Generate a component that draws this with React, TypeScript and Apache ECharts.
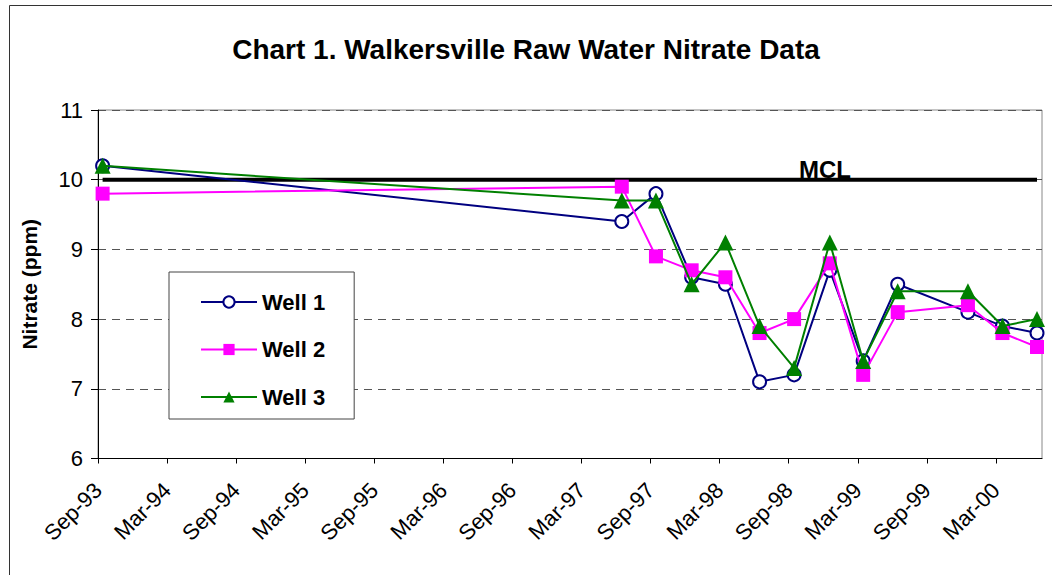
import React, { useEffect, useRef } from "react";
import * as echarts from "echarts";

const sampleDates = [
  "1993-09-13", "1997-06-16", "1997-09-15", "1997-12-18", "1998-03-16", "1998-06-15",
  "1998-09-15", "1998-12-18", "1999-03-15", "1999-06-15", "1999-12-18", "2000-03-18", "2000-06-18",
];
const well1 = [10.2, 9.4, 9.8, 8.6, 8.5, 7.1, 7.2, 8.7, 7.4, 8.5, 8.1, 7.9, 7.8];
const well2 = [9.8, 9.9, 8.9, 8.7, 8.6, 7.8, 8.0, 8.8, 7.2, 8.1, 8.2, 7.8, 7.6];
const well3 = [10.2, 9.7, 9.7, 8.5, 9.1, 7.9, 7.3, 9.1, 7.4, 8.4, 8.4, 7.9, 8.0];
const mclValue = 10;
const tickLabels = [
  "Sep-93", "Mar-94", "Sep-94", "Mar-95", "Sep-95", "Mar-96", "Sep-96",
  "Mar-97", "Sep-97", "Mar-98", "Sep-98", "Mar-99", "Sep-99", "Mar-00",
];

// months elapsed since 1 Sep 1993
const toMonths = (d: string) => {
  const [y, m, day] = d.split("-").map(Number);
  return (y - 1993) * 12 + (m - 9) + (day - 1) / 30;
};

export default function App() {
  const ref = useRef<HTMLDivElement>(null);
  useEffect(() => {
    if (!ref.current) return;
    const chart = echarts.init(ref.current, null, { renderer: "svg" });
    const xs = sampleDates.map(toMonths);
    const pts = (vals: number[]) => vals.map((v, i) => [xs[i], v]);
    const font = "Liberation Sans, Arial, sans-serif";
    chart.setOption({
      animation: false,
      backgroundColor: "#fff",
      textStyle: { fontFamily: font },
      title: {
        text: "Chart 1. Walkersville Raw Water Nitrate Data",
        left: "center",
        top: 30,
        textStyle: { fontSize: 28, fontWeight: "bold", color: "#000", fontFamily: font },
      },
      grid: {
        left: 98,
        right: 10,
        top: 110,
        bottom: 116.5,
        show: true,
        borderColor: "#888",
        borderWidth: 1,
        backgroundColor: "transparent",
      },
      legend: {
        orient: "vertical",
        left: 169,
        top: 272,
        padding: [18, 29, 10, 31],
        itemGap: 23.5,
        itemWidth: 56,
        itemHeight: 14,
        itemTextGap: 5,
        borderColor: "#444",
        borderWidth: 1,
        backgroundColor: "#fff",
        data: ["Well 1", "Well 2", "Well 3"],
        textStyle: { fontSize: 22, fontWeight: "bold", color: "#000", lineHeight: 24, fontFamily: font },
      },
      xAxis: {
        type: "value",
        min: 0,
        max: 82,
        interval: 6,
        axisLine: { lineStyle: { color: "#000", width: 1 } },
        axisTick: { show: true, length: 5, lineStyle: { color: "#000" } },
        splitLine: { show: false },
        axisLabel: {
          rotate: 45,
          fontSize: 22,
          color: "#000",
          margin: 28,
          showMaxLabel: false,
          formatter: (v: number) => (v % 6 === 0 ? tickLabels[v / 6] ?? "" : ""),
        },
      },
      yAxis: {
        type: "value",
        min: 6,
        max: 11,
        interval: 1,
        name: "Nitrate (ppm)",
        nameLocation: "middle",
        nameRotate: 90,
        nameGap: 58,
        nameTextStyle: { fontSize: 21, fontWeight: "bold", color: "#000", fontFamily: font },
        axisLine: { show: true, lineStyle: { color: "#000", width: 1 } },
        axisTick: { show: true, length: 7, lineStyle: { color: "#000" } },
        axisLabel: { fontSize: 22, color: "#000", margin: 15 },
        splitLine: { show: true, lineStyle: { color: "#555", type: [8, 6], width: 1 } },
      },
      series: [
        {
          name: "MCL",
          type: "line",
          data: [[xs[0], mclValue], [xs[xs.length - 1], mclValue]],
          symbol: "none",
          lineStyle: { color: "#000", width: 4 },
          z: 1,
        },
        {
          name: "Well 1",
          type: "line",
          data: pts(well1),
          symbol: "emptyCircle",
          symbolSize: 13,
          color: "#000080",
          lineStyle: { color: "#000080", width: 2 },
          itemStyle: { color: "#000080", borderWidth: 2.5 },
          z: 3,
        },
        {
          name: "Well 2",
          type: "line",
          data: pts(well2),
          symbol: "rect",
          symbolSize: 14,
          color: "#FF00FF",
          lineStyle: { color: "#FF00FF", width: 2 },
          itemStyle: { color: "#FF00FF" },
          z: 4,
        },
        {
          name: "Well 3",
          type: "line",
          data: pts(well3),
          symbol: "triangle",
          symbolSize: 16,
          color: "#008000",
          lineStyle: { color: "#008000", width: 2 },
          itemStyle: { color: "#008000" },
          z: 5,
        },
      ],
      graphic: [
        {
          type: "rect",
          shape: { x: 9.5, y: 5.5, width: 1100, height: 700 },
          style: { fill: "none", stroke: "#333", lineWidth: 1 },
          silent: true,
        },
        {
          type: "text",
          x: 825,
          y: 157,
          style: {
            text: "MCL",
            fontSize: 24,
            fontWeight: "bold",
            fill: "#000",
            align: "center",
            verticalAlign: "top",
            fontFamily: font,
          },
          z: 0,
        },
      ],
    });
    return () => chart.dispose();
  }, []);
  return (
    <div
      ref={ref}
      style={{ position: "fixed", left: 0, top: 0, width: 1052, height: 575, background: "#fff" }}
    />
  );
}
